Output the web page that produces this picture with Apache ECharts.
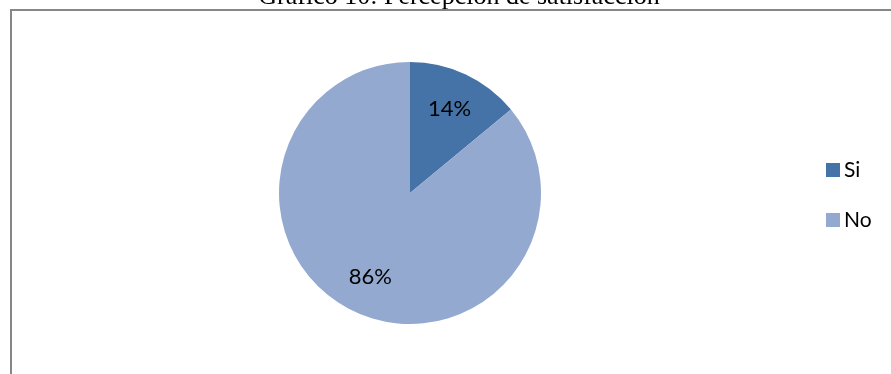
<!DOCTYPE html>
<html>
<head>
<meta charset="utf-8">
<script src="https://cdn.jsdelivr.net/npm/echarts@6/dist/echarts.min.js"></script>
<style>
  html, body { margin: 0; padding: 0; background: #fff; }
  #chart { width: 891px; height: 374px; }
</style>
</head>
<body>
<div id="chart"></div>
<script>
// Survey answers and their shares (percent)
const categories = ['Si', 'No'];
const shares = [14, 86];
const colors = ['#4572A7', '#93A9CF'];
const chartTitle = 'Gráfico 10: Percepción de satisfacción';

const pieData = categories.map((name, i) => ({ name: name, value: shares[i] }));

const chart = echarts.init(document.getElementById('chart'), null, { renderer: 'canvas' });

chart.setOption({
  animation: false,
  color: colors,
  graphic: [
    {
      type: 'text',
      x: 459,
      y: 10,
      style: {
        text: chartTitle,
        font: '26px "Liberation Serif", "Times New Roman", serif',
        fill: '#000',
        align: 'center',
        verticalAlign: 'bottom'
      }
    },
    {
      // chart frame: top edge
      type: 'line',
      shape: { x1: 10, y1: 10, x2: 891, y2: 10 },
      style: { stroke: '#868686', lineWidth: 2 }
    },
    {
      // chart frame: left edge
      type: 'line',
      shape: { x1: 11, y1: 9, x2: 11, y2: 374 },
      style: { stroke: '#868686', lineWidth: 2 }
    }
  ],
  legend: {
    orient: 'vertical',
    left: 821,
    top: 153,
    itemWidth: 14,
    itemHeight: 14,
    itemGap: 26,
    icon: 'rect',
    textStyle: { fontFamily: 'Lato, "Open Sans", sans-serif', fontSize: 21, lineHeight: 24, color: '#000', padding: [0, 0, 0, -1] },
    data: categories
  },
  series: [
    {
      type: 'pie',
      center: [410, 193],
      radius: [0, 131],
      startAngle: 90,
      clockwise: true,
      silent: true,
      label: { show: false },
      labelLine: { show: false },
      itemStyle: { borderWidth: 0 },
      data: pieData
    },
    {
      // transparent disc used only to place the percentage labels
      type: 'pie',
      center: [410, 193],
      radius: [0, 180],
      startAngle: 90,
      clockwise: true,
      silent: true,
      legendHoverLink: false,
      itemStyle: { color: 'rgba(0,0,0,0)', borderWidth: 0 },
      label: {
        show: true,
        position: 'inside',
        formatter: '{d}%',
        fontFamily: 'Lato, "Open Sans", sans-serif',
        fontSize: 22,
        color: '#000'
      },
      labelLine: { show: false },
      data: pieData.map(d => ({ name: d.name + ' ', value: d.value }))
    }
  ]
});
</script>
</body>
</html>
